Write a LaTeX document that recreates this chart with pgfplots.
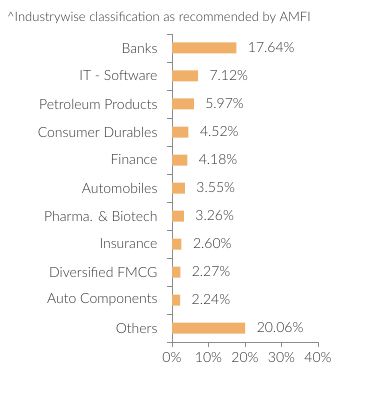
\documentclass[border=0pt]{standalone}
\usepackage{fontspec}
\setmainfont{Lato}[UprightFont={* Light}]
\usepackage{pgfplots}
\pgfplotsset{compat=1.18}
\definecolor{barc}{HTML}{F0B06A}
\definecolor{txt}{HTML}{333333}
\definecolor{axc}{HTML}{8C8C8C}
\begin{document}
\begin{tikzpicture}[x=1pt,y=1pt]
\useasboundingbox (-172,-53) rectangle (219,342);
\node[anchor=west,text=txt,font=\fontsize{13}{15}\selectfont,inner sep=0] at (-165,324) {\^{}Industrywise classification as recommended by AMFI};
\begin{axis}[
  at={(0,0)}, anchor=south west,
  scale only axis, width=146pt, height=308pt,
  xbar, bar width=11pt,
  xmin=0, xmax=40, ymin=-0.5, ymax=10.5,
  y dir=reverse,
  axis x line*=bottom, axis y line*=left,
  axis line style={draw=axc, line width=0.8pt},
  tick style={draw=axc, line width=0.8pt},
  tick align=outside,
  xtick={0,10,20,30,40},
  xticklabel={\pgfmathprintnumber{\tick}\%},
  major tick length=5pt,
  ytick={0,...,10},
  yticklabels={Banks,IT - Software,Petroleum Products,Consumer Durables,Finance,Automobiles,Pharma. \& Biotech,Insurance,Diversified FMCG,Auto Components,Others},
  ytick style={draw=none},
  extra y ticks={-0.5,0.5,...,10.5},
  extra y tick labels={},
  extra y tick style={ytick style={draw=axc, line width=0.8pt}},
  /pgf/number format/assume math mode=true,
  ticklabel style={text=txt, font=\fontsize{14}{16}\selectfont},
  y tick label style={xshift=-6pt},
  x tick label style={yshift=-2pt},
  nodes near coords={\pgfmathprintnumber[fixed,fixed zerofill,precision=2]{\pgfplotspointmeta}\%},
  every node near coord/.append style={anchor=west, xshift=8pt, text=txt, font=\fontsize{14}{16}\selectfont},
]
\addplot[fill=barc, draw=none] coordinates {
(17.64,0) (7.12,1) (5.97,2) (4.52,3) (4.18,4) (3.55,5) (3.26,6) (2.60,7) (2.27,8) (2.24,9) (20.06,10)};
\end{axis}
\end{tikzpicture}
\end{document}
